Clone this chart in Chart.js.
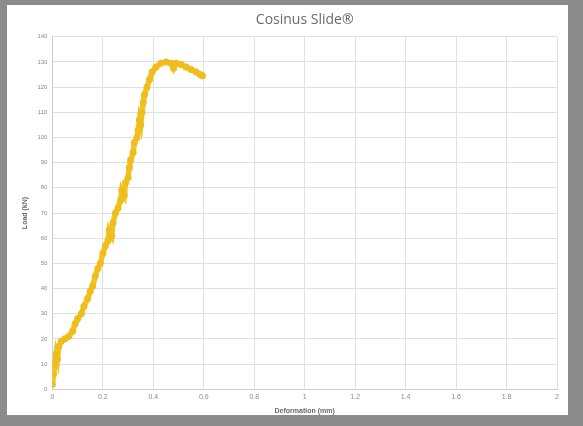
<!DOCTYPE html>
<html>
<head>
<meta charset="utf-8">
<script src="https://cdn.jsdelivr.net/npm/chart.js"></script>
<style>
  body { margin: 0; background: #8c8c8c; width: 583px; height: 426px; overflow: hidden; }
  #frame { position: absolute; left: 7px; top: 5px; width: 561px; height: 410px; background: #ffffff; }
</style>
</head>
<body>
<div id="frame"><canvas id="slideChart" width="561" height="410"></canvas></div>
<script>
// deformation (mm) and load (kN)
const deformation = [0, 0.005, 0.01, 0.015, 0.02, 0.025, 0.035, 0.05, 0.065, 0.08, 0.09, 0.1, 0.115, 0.125, 0.14, 0.15, 0.16, 0.17, 0.18, 0.19, 0.2, 0.21, 0.22, 0.225, 0.235, 0.24, 0.25, 0.26, 0.27, 0.275, 0.285, 0.29, 0.3, 0.305, 0.31, 0.32, 0.325, 0.335, 0.34, 0.345, 0.35, 0.355, 0.36, 0.365, 0.375, 0.385, 0.395, 0.41, 0.43, 0.45, 0.47, 0.48, 0.49, 0.51, 0.53, 0.55, 0.57, 0.585, 0.595];
const load = [2, 6, 10, 14, 12, 17, 19, 20, 21, 23, 26, 28, 30, 33, 36, 39, 41, 45, 48, 50, 54, 57, 59, 63, 61, 66, 70, 72, 75, 79, 77, 82, 84, 88, 91, 94, 98, 100, 103, 107, 105, 110, 114, 117, 120, 123, 126, 128, 129.5, 130, 129.5, 127.5, 129.5, 129, 128, 127, 126, 125, 124.5];
const xTicks = [0, 0.2, 0.4, 0.6, 0.8, 1, 1.2, 1.4, 1.6, 1.8, 2];
const yTicks = [0, 10, 20, 30, 40, 50, 60, 70, 80, 90, 100, 110, 120, 130, 140];

const points = deformation.map((d, i) => ({ x: d, y: load[i] }));

new Chart(document.getElementById('slideChart').getContext('2d'), {
  type: 'scatter',
  data: {
    datasets: [{
      label: 'Cosinus Slide',
      data: points,
      showLine: true,
      borderColor: '#f3c426',
      backgroundColor: '#efbd1c',
      borderWidth: 5.5,
      pointRadius: 3.5,
      pointBorderWidth: 0
    }]
  },
  options: {
    responsive: false,
    animation: false,
    layout: { padding: { left: 14, right: 11, top: 3, bottom: 0 } },
    plugins: {
      legend: { display: false },
      tooltip: { enabled: false },
      title: {
        display: true,
        fullSize: false,
        text: 'Cosinus Slide®',
        color: '#6a6a6a',
        font: { family: 'Open Sans', size: 14, weight: 'normal' },
        padding: { top: 4, bottom: 8 }
      }
    },
    scales: {
      x: {
        type: 'linear',
        min: 0, max: 2,
        afterBuildTicks: axis => { axis.ticks = xTicks.map(v => ({ value: v })); },
        ticks: { color: '#8a8a8a', font: { size: 7 }, padding: 4, callback: v => String(v) },
        grid: { color: '#e0e0e0', drawTicks: false },
        border: { color: '#cfcfcf' },
        title: { display: true, text: 'Deformation (mm)', color: '#6a6a6a', font: { size: 7, weight: 'bold' }, padding: { top: 1, bottom: 0 } }
      },
      y: {
        min: 0, max: 140,
        afterBuildTicks: axis => { axis.ticks = yTicks.map(v => ({ value: v })); },
        ticks: { color: '#8a8a8a', font: { size: 6 }, padding: 5 },
        grid: { color: '#e0e0e0', drawTicks: false },
        border: { color: '#cfcfcf' },
        title: { display: true, text: 'Load (kN)', color: '#6a6a6a', font: { size: 7, weight: 'bold' }, padding: { top: 0, bottom: 3 } }
      }
    }
  }
});
</script>
</body>
</html>
